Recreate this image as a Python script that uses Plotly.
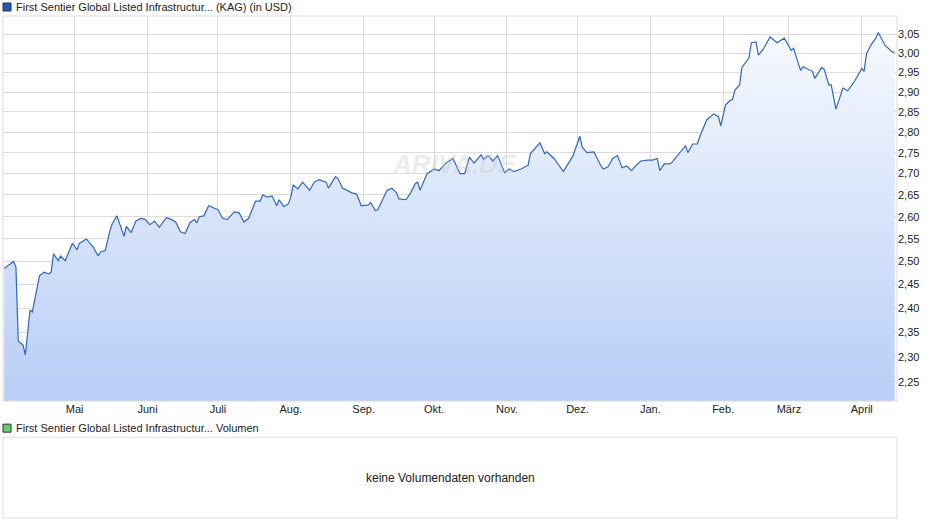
import plotly.graph_objects as go

dates = [
    "2024-04-01", "2024-04-05", "2024-04-06", "2024-04-07", "2024-04-09", "2024-04-10", "2024-04-12",
    "2024-04-13", "2024-04-16", "2024-04-18", "2024-04-20", "2024-04-21", "2024-04-22", "2024-04-24",
    "2024-04-25", "2024-04-27", "2024-04-30", "2024-05-02", "2024-05-03", "2024-05-06", "2024-05-09",
    "2024-05-11", "2024-05-12", "2024-05-14", "2024-05-16", "2024-05-17", "2024-05-19", "2024-05-21",
    "2024-05-22", "2024-05-23", "2024-05-25", "2024-05-27", "2024-05-29", "2024-05-31", "2024-06-02",
    "2024-06-04", "2024-06-06", "2024-06-09", "2024-06-11", "2024-06-13", "2024-06-15", "2024-06-17",
    "2024-06-19", "2024-06-21", "2024-06-22", "2024-06-23", "2024-06-25", "2024-06-27", "2024-07-01",
    "2024-07-03", "2024-07-05", "2024-07-08", "2024-07-10", "2024-07-12", "2024-07-14", "2024-07-17",
    "2024-07-19", "2024-07-20", "2024-07-22", "2024-07-24", "2024-07-26", "2024-07-27", "2024-07-29",
    "2024-07-31", "2024-08-01", "2024-08-02", "2024-08-04", "2024-08-06", "2024-08-09", "2024-08-11",
    "2024-08-13", "2024-08-16", "2024-08-17", "2024-08-20", "2024-08-21", "2024-08-23", "2024-08-25",
    "2024-08-27", "2024-08-29", "2024-08-31", "2024-09-03", "2024-09-04", "2024-09-06", "2024-09-07",
    "2024-09-11", "2024-09-13", "2024-09-15", "2024-09-16", "2024-09-19", "2024-09-21", "2024-09-23",
    "2024-09-24", "2024-09-25", "2024-09-28", "2024-10-01", "2024-10-03", "2024-10-06", "2024-10-09",
    "2024-10-12", "2024-10-14", "2024-10-16", "2024-10-18", "2024-10-21", "2024-10-22", "2024-10-24",
    "2024-10-26", "2024-10-28", "2024-10-31", "2024-11-02", "2024-11-04", "2024-11-07", "2024-11-10",
    "2024-11-11", "2024-11-15", "2024-11-17", "2024-11-18", "2024-11-21", "2024-11-25", "2024-11-27",
    "2024-11-29", "2024-12-02", "2024-12-03", "2024-12-05", "2024-12-08", "2024-12-11", "2024-12-12",
    "2024-12-14", "2024-12-16", "2024-12-18", "2024-12-20", "2024-12-22", "2024-12-24", "2024-12-26",
    "2024-12-28", "2024-12-31", "2025-01-02", "2025-01-04", "2025-01-05", "2025-01-07", "2025-01-09",
    "2025-01-10", "2025-01-13", "2025-01-16", "2025-01-17", "2025-01-19", "2025-01-21", "2025-01-22",
    "2025-01-25", "2025-01-28", "2025-01-30", "2025-01-31", "2025-02-02", "2025-02-04", "2025-02-05",
    "2025-02-06", "2025-02-08", "2025-02-09", "2025-02-12", "2025-02-13", "2025-02-15", "2025-02-16",
    "2025-02-18", "2025-02-20", "2025-02-21", "2025-02-24", "2025-02-27", "2025-03-02", "2025-03-03",
    "2025-03-05", "2025-03-06", "2025-03-07", "2025-03-11", "2025-03-12", "2025-03-15", "2025-03-16",
    "2025-03-18", "2025-03-19", "2025-03-21", "2025-03-24", "2025-03-26", "2025-03-29", "2025-04-01",
    "2025-04-02", "2025-04-03", "2025-04-05", "2025-04-07", "2025-04-08", "2025-04-11", "2025-04-12",
    "2025-04-14", "2025-04-15",
]
prices = [
    2.485, 2.500, 2.488, 2.332, 2.324, 2.304, 2.396,
    2.392, 2.469, 2.477, 2.473, 2.477, 2.517, 2.502,
    2.512, 2.502, 2.540, 2.526, 2.540, 2.550, 2.531,
    2.512, 2.521, 2.524, 2.568, 2.584, 2.602, 2.568,
    2.556, 2.578, 2.564, 2.590, 2.596, 2.594, 2.582,
    2.590, 2.576, 2.598, 2.594, 2.588, 2.566, 2.562,
    2.586, 2.594, 2.586, 2.600, 2.602, 2.625, 2.616,
    2.596, 2.594, 2.611, 2.609, 2.588, 2.596, 2.636,
    2.636, 2.650, 2.645, 2.648, 2.625, 2.639, 2.623,
    2.630, 2.645, 2.673, 2.664, 2.680, 2.661, 2.680,
    2.686, 2.680, 2.666, 2.693, 2.689, 2.666, 2.661,
    2.655, 2.652, 2.625, 2.627, 2.632, 2.614, 2.616,
    2.661, 2.666, 2.655, 2.641, 2.639, 2.655, 2.677,
    2.680, 2.661, 2.700, 2.711, 2.707, 2.725, 2.736,
    2.700, 2.700, 2.739, 2.725, 2.745, 2.734, 2.743,
    2.730, 2.743, 2.702, 2.711, 2.705, 2.711, 2.720,
    2.748, 2.774, 2.748, 2.752, 2.736, 2.705, 2.723,
    2.741, 2.790, 2.764, 2.750, 2.752, 2.718, 2.711,
    2.716, 2.736, 2.743, 2.714, 2.718, 2.707, 2.720,
    2.730, 2.732, 2.732, 2.736, 2.707, 2.723, 2.723,
    2.725, 2.745, 2.767, 2.750, 2.771, 2.771, 2.788,
    2.830, 2.845, 2.838, 2.815, 2.867, 2.879, 2.881,
    2.905, 2.918, 2.963, 2.988, 3.028, 3.030, 2.995,
    3.010, 3.030, 3.043, 3.028, 3.040, 3.008, 3.013,
    2.973, 2.955, 2.965, 2.953, 2.935, 2.963, 2.958,
    2.918, 2.918, 2.857, 2.910, 2.903, 2.928, 2.960,
    2.953, 2.998, 3.023, 3.040, 3.055, 3.020, 3.015,
    3.003, 3.003,
]
month_ticks = ["2024-05-01", "2024-06-01", "2024-07-01", "2024-08-01", "2024-09-01", "2024-10-01",
               "2024-11-01", "2024-12-01", "2025-01-01", "2025-02-01", "2025-03-01", "2025-04-01"]
month_labels = ["Mai", "Juni", "Juli", "Aug.", "Sep.", "Okt.", "Nov.", "Dez.", "Jan.", "Feb.", "März", "April"]
price_ticks = [2.25, 2.30, 2.35, 2.40, 2.45, 2.50, 2.55, 2.60, 2.65, 2.70, 2.75, 2.80, 2.85, 2.90, 2.95, 3.00, 3.05]

font = dict(family="Liberation Sans, Arial, sans-serif", size=11, color="#222")
x_range = ["2024-03-31 12:00", "2025-04-16"]
floor = 2.2

fig = go.Figure()
# invisible baseline so the area can fill down to the bottom of the log axis
fig.add_trace(go.Scatter(x=[dates[0], dates[-1]], y=[floor, floor], mode="lines",
                         line=dict(width=0), hoverinfo="skip", showlegend=False))
fig.add_trace(go.Scatter(
    x=dates, y=prices, mode="lines", fill="tonexty",
    line=dict(color="#2f67c6", width=1.2),
    fillgradient=dict(type="vertical", colorscale=[[0, "#b7cdf6"], [1, "#f6f9fe"]]),
    showlegend=False,
))

fig.update_layout(
    width=940, height=526,
    margin=dict(l=3, r=43, t=16, b=8),
    paper_bgcolor="white", plot_bgcolor="white",
    separators=",.",
    font=font,
    xaxis=dict(type="date", range=x_range, tickvals=month_ticks, ticktext=month_labels,
               showgrid=True, gridcolor="#dcdcdc", gridwidth=1, ticks="", showline=False,
               zeroline=False, tickfont=font),
    yaxis=dict(type="log", side="right", domain=[0.233, 1],
               range=[0.3449, 0.4913], tickvals=price_ticks, tickformat=".2f",
               showgrid=True, gridcolor="#dcdcdc", ticks="", zeroline=False, tickfont=font),
    xaxis2=dict(anchor="y2", range=x_range, visible=False, showgrid=False),
    yaxis2=dict(domain=[0, 0.161], range=[0, 1], visible=False, showgrid=False),
    shapes=[
        dict(type="rect", xref="paper", yref="paper", x0=0, x1=1, y0=0.233, y1=1,
             line=dict(color="#dcdcdc", width=1)),
        dict(type="rect", xref="paper", yref="paper", x0=0, x1=1, y0=0, y1=0.161,
             line=dict(color="#dcdcdc", width=1)),
        dict(type="rect", xref="paper", yref="paper", xsizemode="pixel", ysizemode="pixel",
             xanchor=0, yanchor=1, x0=0, x1=8, y0=13, y1=5,
             fillcolor="#1f57c3", line=dict(color="#333", width=1)),
        dict(type="rect", xref="paper", yref="paper", xsizemode="pixel", ysizemode="pixel",
             xanchor=0, yanchor=0.161, x0=0, x1=8, y0=13, y1=5,
             fillcolor="#5fd35f", line=dict(color="#333", width=1)),
    ],
    annotations=[
        dict(text="First Sentier Global Listed Infrastructur... (KAG) (in USD)", xref="paper", yref="paper",
             x=0, y=1, xshift=11, yshift=9, xanchor="left", yanchor="middle", showarrow=False, font=font),
        dict(text="First Sentier Global Listed Infrastructur... Volumen", xref="paper", yref="paper",
             x=0, y=0.161, xshift=11, yshift=9, xanchor="left", yanchor="middle", showarrow=False, font=font),
        dict(text="keine Volumendaten vorhanden", xref="paper", yref="paper",
             x=0.5, y=0.08, xanchor="center", yanchor="middle", showarrow=False,
             font=dict(family=font["family"], size=12, color="#222")),
        dict(text="<b><i>ARIVA.DE</i></b>", xref="paper", yref="paper", x=0.505, y=0.74,
             showarrow=False, font=dict(family=font["family"], size=26, color="rgba(200,200,200,0.35)")),
    ],
)
fig.add_trace(go.Scatter(x=[], y=[], xaxis="x2", yaxis="y2", showlegend=False))

fig.write_html("out.html", config={"displayModeBar": False})

# drop the browser's default body margin so the figure sits at the window corner
with open("out.html", encoding="utf-8") as f:
    page = f.read()
page = page.replace("<body>", '<body style="margin:0">', 1)
with open("out.html", "w", encoding="utf-8") as f:
    f.write(page)
